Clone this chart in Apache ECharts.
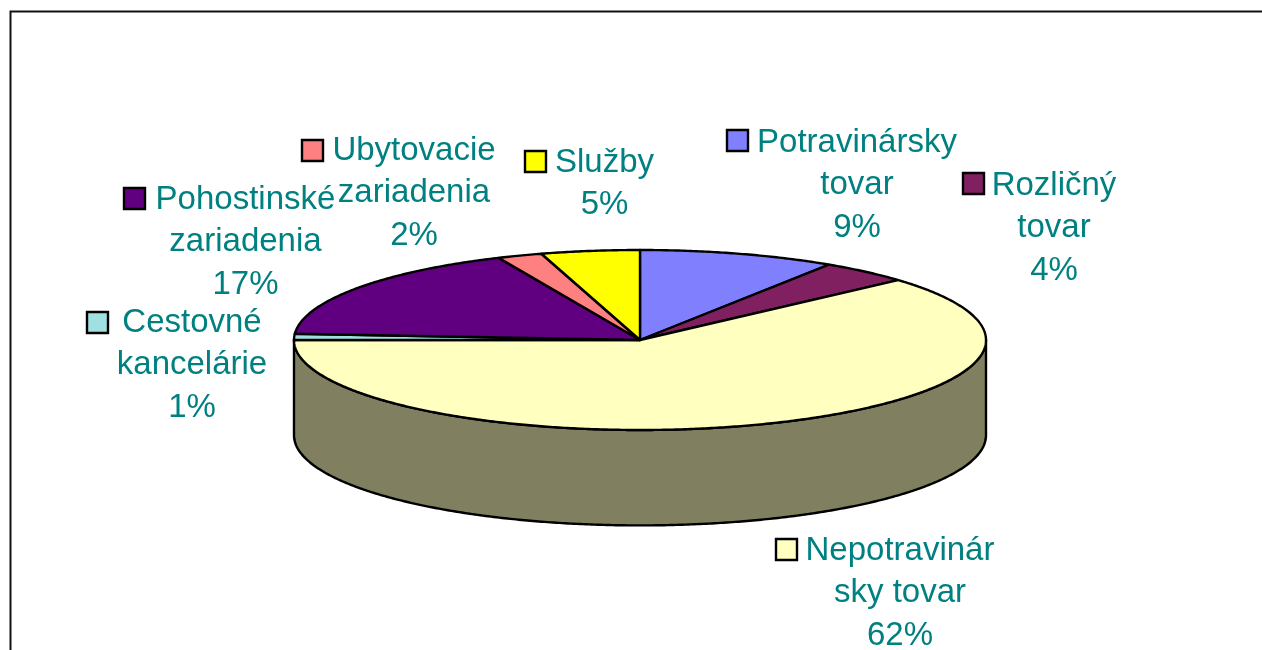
<!DOCTYPE html>
<html><head><meta charset="utf-8">
<style>html,body{margin:0;padding:0;background:#fff}#c{width:1262px;height:650px}</style>
<script src="https://cdn.jsdelivr.net/npm/echarts@6/dist/echarts.min.js"></script>
</head><body><div id="c"></div>
<script>
const categories = ['Potravinársky\ntovar','Rozličný\ntovar','Nepotravinár\nsky tovar','Cestovné\nkancelárie','Pohostinské\nzariadenia','Ubytovacie\nzariadenia','Služby'];
const shares = [9.2,4.2,61.6,1.1,17.2,2.1,4.6];
const colors = ['#8080FF','#802060','#FFFFC0','#A0E0E0','#600080','#FF8080','#FFFF00'];
const sideColors = ['#404080','#401030','#808060','#507070','#300040','#804040','#808000'];
// label layout: key left, key top, text centre x, first line centre y
const labelLayout = [[727,130,857,141],[963,173,1054,184],[776,539,900,549],[87,312,192,321],[124,188,245.5,198],[302,140,414,149],[525,151,604.5,161]];
const total = shares.reduce((a,b)=>a+b,0);
const starts = []; let acc = 0; shares.forEach(v=>{starts.push(acc); acc+=v;});
const depth = 1.06; // rim depth in y axis units
const TOP_STEP = 0.5; // degrees per polygon vertex
function rimPoints(api,a0,a1,dy){
  const pts=[]; const n=Math.max(2,Math.ceil((a1-a0)/TOP_STEP));
  for(let i=0;i<=n;i++){const t=(a0+(a1-a0)*i/n)*Math.PI/180; pts.push(api.coord([Math.sin(t),Math.cos(t)-dy]));}
  return pts;
}
function renderItem(params,api){
  const i=params.dataIndex;
  const a0=starts[i]/total*360, a1=(starts[i]+shares[i])/total*360;
  const children=[];
  const s0=Math.max(a0,90), s1=Math.min(a1,270);
  if(s1>s0){
    const top=rimPoints(api,s0,s1,0), bottom=rimPoints(api,s0,s1,depth).reverse();
    children.push({type:'polygon',shape:{points:top.concat(bottom)},style:{fill:sideColors[i],stroke:'#000',lineWidth:2.4,lineJoin:'round'}});
  }
  const pts=[api.coord([0,0])].concat(rimPoints(api,a0,a1,0));
  children.push({type:'polygon',shape:{points:pts},style:{fill:colors[i],stroke:'#000',lineWidth:2.4,lineJoin:'round'}});
  const L=labelLayout[i];
  children.push({type:'rect',shape:{x:L[0],y:L[1],width:21,height:21},style:{fill:colors[i],stroke:'#000',lineWidth:2.4},z2:5});
  children.push({type:'text',x:L[2],y:L[3]-19.5,style:{text:categories[i]+'\n'+Math.round(shares[i])+'%',fill:'#008080',font:'33px "Liberation Sans", Arial, sans-serif',align:'center',verticalAlign:'top',lineHeight:42.5},z2:5});
  return {type:'group',children};
}
const chart=echarts.init(document.getElementById('c'),null,{renderer:'canvas'});
chart.setOption({
  animation:false,
  backgroundColor:'#fff',
  graphic:[{type:'rect',shape:{x:10.5,y:11.5,width:1300,height:700},style:{fill:'none',stroke:'#111',lineWidth:2},silent:true,z:-1}],
  grid:{left:294,top:250,width:692,height:180},
  xAxis:{type:'value',min:-1,max:1,show:false},
  yAxis:{type:'value',min:-1,max:1,show:false},
  series:[{type:'custom',coordinateSystem:'cartesian2d',clip:false,renderItem,encode:{x:0,y:1},
    data:shares.map((v,i)=>({name:categories[i],value:[0,0,v]}))}]
});
</script></body></html>
